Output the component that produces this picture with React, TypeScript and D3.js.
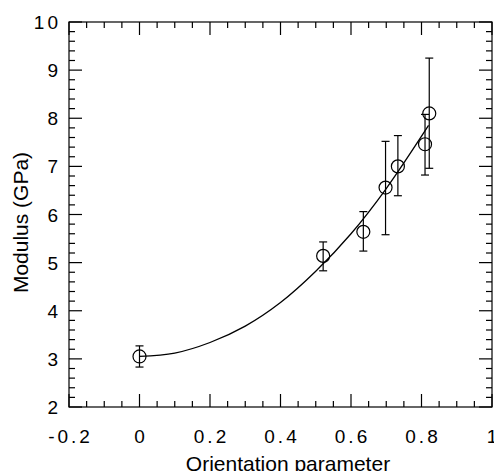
import React from 'react';
import * as d3 from 'd3';

// measured points (orientation parameter, modulus GPa, error bar low/high)
const orient = [0, 0.521, 0.635, 0.698, 0.733, 0.81, 0.822];
const modulus = [3.05, 5.14, 5.64, 6.56, 7.0, 7.46, 8.1];
const errLow = [2.83, 4.83, 5.24, 5.58, 6.39, 6.82, 6.96];
const errHigh = [3.27, 5.43, 6.06, 7.52, 7.64, 8.08, 9.25];

// fit line
const fitX = [0, 0.1, 0.2, 0.3, 0.4, 0.5, 0.6, 0.7, 0.82];
const fitY = [3.05, 3.12, 3.34, 3.68, 4.17, 4.82, 5.6, 6.54, 7.85];

const xTicks = [-0.2, 0, 0.2, 0.4, 0.6, 0.8, 1];
const yTicks = [2, 3, 4, 5, 6, 7, 8, 9, 10];

const W = 494;
const H = 471;
const left = 69, right = 492, top = 22, bottom = 407;

export default function App() {
  const x = d3.scaleLinear().domain([-0.2, 1]).range([left, right]);
  const y = d3.scaleLinear().domain([2, 10]).range([bottom, top]);

  const xMinor = d3.range(-0.2, 1.0001, 0.05);
  const yMinor = d3.range(2, 10.0001, 0.2);

  const line = d3
    .line<number>()
    .x((d, i) => x(fitX[i]))
    .y(d => y(d))
    .curve(d3.curveCatmullRom);

  const font = '"Liberation Sans", Arial, sans-serif';

  return (
    <svg width={W} height={H} style={{ position: 'absolute', left: 0, top: 0 }}>
      <rect x={0} y={0} width={W} height={H} fill="#fff" />
      <g stroke="#000" strokeWidth={1.2} fill="none">
        <rect x={left} y={top} width={right - left} height={bottom - top} />
        {xMinor.map((v, i) => {
          const major = i % 4 === 0;
          const len = major ? 13 : 6;
          return (
            <g key={'xm' + i}>
              <line x1={x(v)} x2={x(v)} y1={bottom} y2={bottom - len} />
              <line x1={x(v)} x2={x(v)} y1={top} y2={top + len} />
            </g>
          );
        })}
        {yMinor.map((v, i) => {
          const major = i % 5 === 0;
          const len = major ? 13 : 6;
          return (
            <g key={'ym' + i}>
              <line x1={left} x2={left + len} y1={y(v)} y2={y(v)} />
              <line x1={right} x2={right - len} y1={y(v)} y2={y(v)} />
            </g>
          );
        })}
      </g>

      <path d={line(fitY) || ''} fill="none" stroke="#000" strokeWidth={1.3} />

      <g stroke="#000" strokeWidth={1.2} fill="none">
        {orient.map((o, i) => (
          <g key={'p' + i}>
            <line x1={x(o)} x2={x(o)} y1={y(errLow[i])} y2={y(errHigh[i])} />
            <line x1={x(o) - 4} x2={x(o) + 4} y1={y(errLow[i])} y2={y(errLow[i])} />
            <line x1={x(o) - 4} x2={x(o) + 4} y1={y(errHigh[i])} y2={y(errHigh[i])} />
            <circle cx={x(o)} cy={y(modulus[i])} r={6.5} />
          </g>
        ))}
      </g>

      <g fontFamily={font} fontSize={19} fill="#000">
        {xTicks.map(t => (
          <text key={'xt' + t} x={x(t) + 1.5} y={443} textAnchor="middle" letterSpacing={3}>
            {String(t)}
          </text>
        ))}
        {yTicks.map(t => (
          <text key={'yt' + t} x={61} y={y(t) + 7} textAnchor="end" letterSpacing={3}>
            {String(t)}
          </text>
        ))}
        <text x={288} y={471} textAnchor="middle" fontSize={21}>
          Orientation parameter
        </text>
        <text
          transform={`translate(28,${(top + bottom) / 2 + 8}) rotate(-90)`}
          textAnchor="middle"
          fontSize={21}
        >
          Modulus (GPa)
        </text>
      </g>
    </svg>
  );
}
